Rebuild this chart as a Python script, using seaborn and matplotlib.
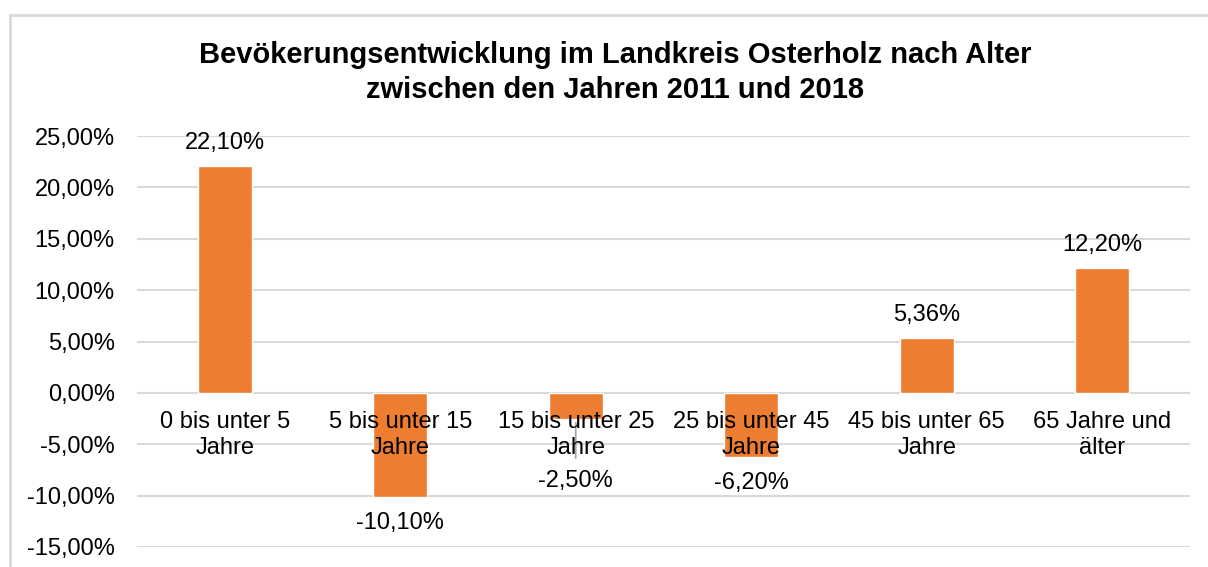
import matplotlib
matplotlib.use("Agg")
import matplotlib.pyplot as plt
import matplotlib.patches as mpatches
import seaborn as sns
import pandas as pd

# Daten
kategorien = ["0 bis unter 5\nJahre", "5 bis unter 15\nJahre", "15 bis unter 25\nJahre",
              "25 bis unter 45\nJahre", "45 bis unter 65\nJahre", "65 Jahre und\nälter"]
werte = [22.10, -10.10, -2.50, -6.20, 5.36, 12.20]
y_ticks = [-15, -10, -5, 0, 5, 10, 15, 20, 25]
titel = ["Bevökerungsentwicklung im Landkreis Osterholz nach Alter",
         "zwischen den Jahren 2011 und 2018"]

df = pd.DataFrame({"Kategorie": kategorien, "Wert": werte})

sns.set_style("white")
plt.rcParams["font.family"] = ["Liberation Sans", "DejaVu Sans"]
textfarbe = "#000000"
fs = 17

fig = plt.figure(figsize=(12.08, 5.67), dpi=100, facecolor="white")
ax = fig.add_axes([137 / 1208, 1 - 547 / 567, (1190 - 137) / 1208, (547 - 136) / 567])

sns.barplot(data=df, x="Kategorie", y="Wert", color="#ED7D31", saturation=1,
            width=0.31, ax=ax, zorder=3)

ax.set_ylim(-15, 25)
ax.set_yticks(y_ticks)
ax.set_yticklabels([f"{v:.2f}%".replace(".", ",") for v in y_ticks], fontsize=fs, color=textfarbe)
ax.tick_params(axis="y", length=0, pad=16)
ax.grid(axis="y", color="#d9d9d9", linewidth=1.5, zorder=0)
ax.set_axisbelow(True)
for s in ax.spines.values():
    s.set_visible(False)
ax.set_xlabel("")
ax.set_ylabel("")
ax.set_xticks(range(len(kategorien)))
ax.set_xticklabels([])
ax.tick_params(axis="x", length=0)

# Kategorie-Beschriftungen an der Nulllinie
for i, k in enumerate(kategorien):
    ax.annotate(k, (i, 0), xytext=(0, -13), textcoords="offset points",
                ha="center", va="top", fontsize=fs, color=textfarbe,
                linespacing=1.25, zorder=5)

# Datenbeschriftungen
for i, v in enumerate(werte):
    txt = f"{v:.2f}%".replace(".", ",")
    if v >= 0:
        ax.annotate(txt, (i, v), xytext=(0, 12), textcoords="offset points",
                    ha="center", va="baseline", fontsize=fs, color=textfarbe)
    elif i == 2:
        ax.annotate(txt, (i, v), xytext=(0, -37), textcoords="offset points",
                    ha="center", va="top", fontsize=fs, color=textfarbe,
                    arrowprops=dict(arrowstyle="-", color="#a6a6a6", lw=1.2,
                                    shrinkA=6, shrinkB=3))
    else:
        ax.annotate(txt, (i, v), xytext=(0, -11), textcoords="offset points",
                    ha="center", va="top", fontsize=fs, color=textfarbe)

# Titel
for zeile, y_px in zip(titel, [63, 98]):
    fig.text(615 / 1208, 1 - y_px / 567, zeile, ha="center", va="baseline",
             fontsize=21, fontweight="bold", color=textfarbe)

# Diagrammrahmen
rahmen = mpatches.Rectangle((10 / 1208, -0.1), 1.2, 1 - 15 / 567 + 0.1,
                            transform=fig.transFigure, fill=False,
                            edgecolor="#d9d9d9", linewidth=2)
fig.patches.append(rahmen)

fig.savefig("out.png", dpi=100, facecolor="white")
